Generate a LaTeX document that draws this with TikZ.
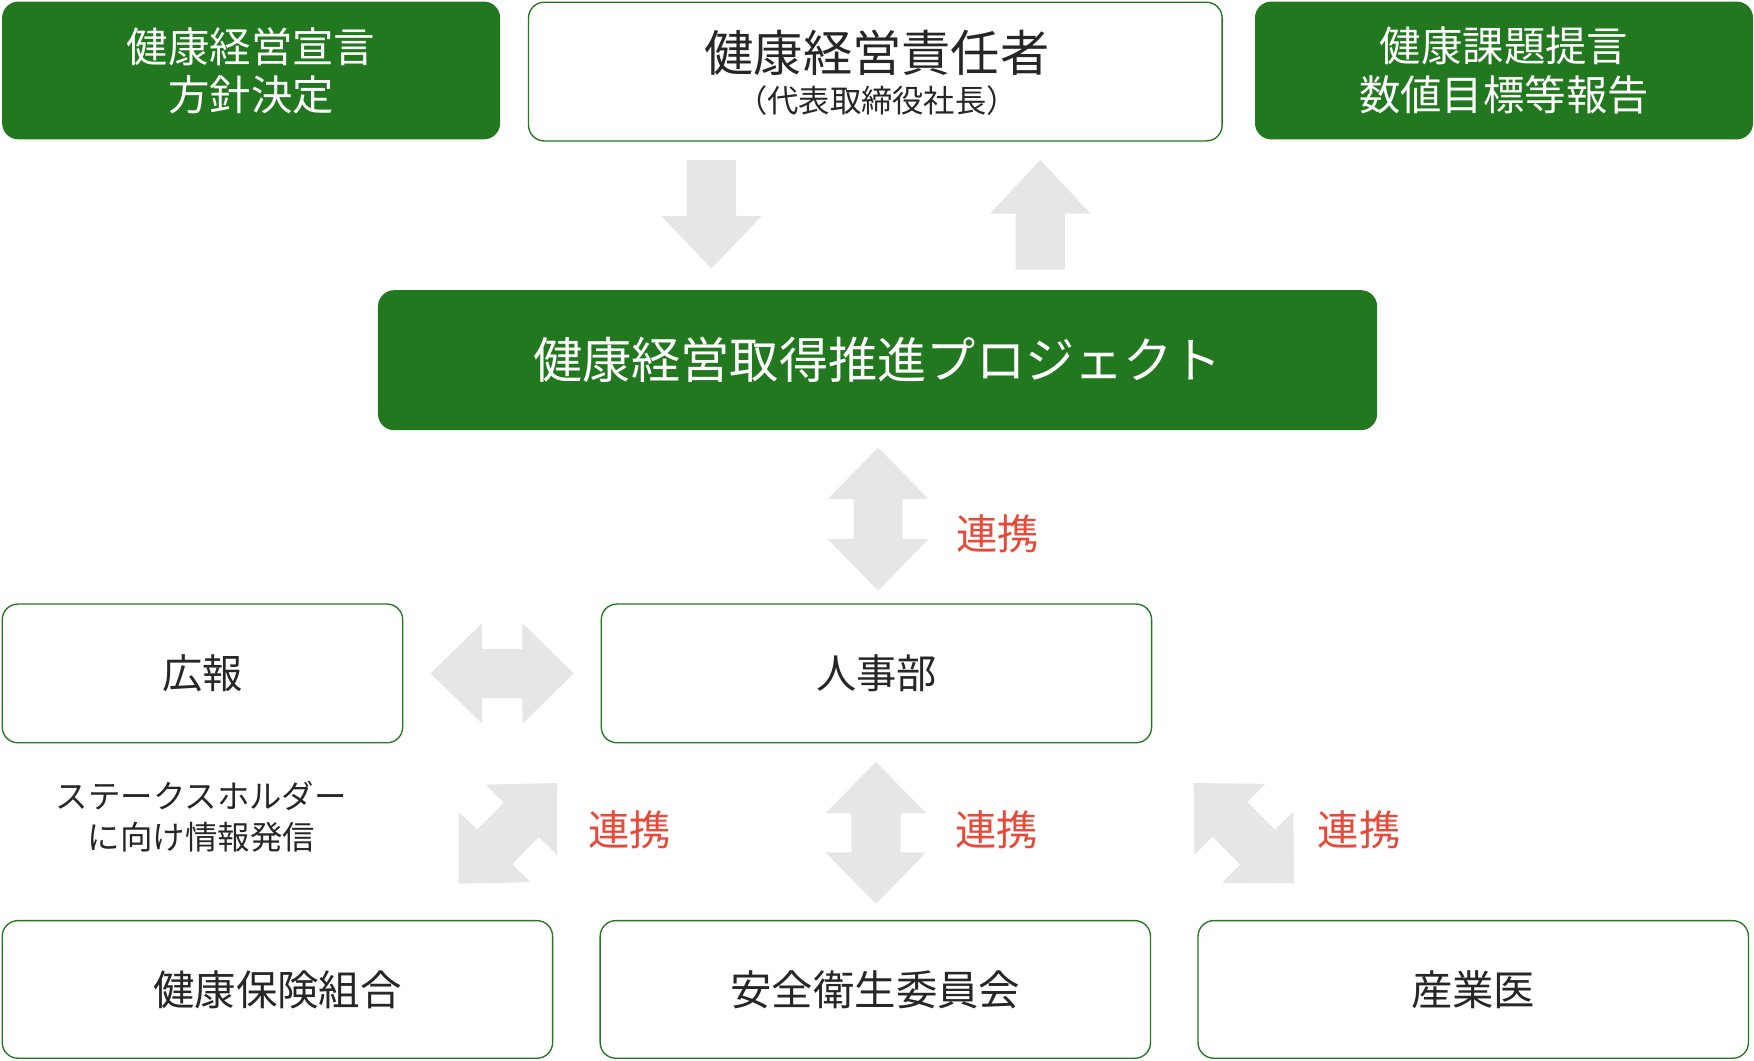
\documentclass[tikz,border=0pt]{standalone}
\usepackage{fontspec}
\setmainfont{Noto Sans CJK JP}
\begin{document}
\definecolor{gr}{HTML}{22781F}
\definecolor{ag}{HTML}{E6E6E6}
\definecolor{rd}{HTML}{E84A3A}
\newcommand\dblarr[4]{\begin{scope}[shift={(#1,#2)},rotate=#3]
\fill[ag] (0,0)--(46,45)--(46,22)--({#4-46},22)--({#4-46},45)--(#4,0)--({#4-46},-45)--({#4-46},-22)--(46,-22)--(46,-45)--cycle;
\end{scope}}
\begin{tikzpicture}[x=0.5pt,y=-0.5pt,
 gbox/.style={draw=gr,fill=gr,text=white,rounded corners=7pt,line width=0.6pt,align=center,inner sep=0},
 wbox/.style={draw=gr,fill=white,text=black!85,rounded corners=7pt,line width=0.6pt,align=center,inner sep=0},
 lk/.style={text=rd,font=\fontsize{18.5}{22}\selectfont}]
\useasboundingbox (0,0) rectangle (1568,948);
\node[gbox,minimum width=222pt,minimum height=61pt,font=\fontsize{18.5}{21.5}\selectfont] (a) at (224.5,63) {健康経営宣言\\方針決定};
\node[wbox,minimum width=310pt,minimum height=62pt] (b) at (782.5,64) {};
\node[text=black!85,font=\fontsize{22}{25}\selectfont] (bt) at (784,47) {健康経営責任者};
\node[text=black!85,font=\fontsize{14}{16}\selectfont] (bs) at (784,90) {（代表取締役社長）};
\node[gbox,minimum width=222pt,minimum height=61pt,font=\fontsize{18.5}{21.5}\selectfont] (c) at (1344.5,63) {健康課題提言\\数値目標等報告};
\node[gbox,minimum width=446pt,minimum height=62pt,font=\fontsize{22}{26}\selectfont] (p) at (784.5,322) {健康経営取得推進プロジェクト};
\fill[ag] (614,143)--(658,143)--(658,193)--(681,193)--(636,240)--(591,193)--(614,193)--cycle;
\fill[ag] (930,143)--(975,191)--(952,191)--(952,241)--(908,241)--(908,191)--(885,191)--cycle;
\dblarr{785}{528}{90}{128}
\node[lk] (l1) at (892,477) {連携};
\node[wbox,minimum width=179pt,minimum height=62pt,font=\fontsize{18}{21}\selectfont] (k) at (181,602) {広報};
\node[wbox,minimum width=246pt,minimum height=62pt,font=\fontsize{18}{21}\selectfont] (h) at (783.5,602) {人事部};
\dblarr{385}{602}{0}{128}
\node[align=center,font=\fontsize{14.5}{18}\selectfont,text=black!85] (s) at (180,730) {ステークスホルダー\\に向け情報発信};
\dblarr{410}{790}{45.6}{126}
\dblarr{783}{808}{90}{127}
\dblarr{1067}{700}{-45}{127}
\node[lk] (l2) at (563,742) {連携};
\node[lk] (l3) at (891,742) {連携};
\node[lk] (l4) at (1215,742) {連携};
\node[wbox,minimum width=246pt,minimum height=61.5pt,font=\fontsize{18.5}{21}\selectfont] (x) at (248,884.5) {健康保険組合};
\node[wbox,minimum width=246pt,minimum height=61.5pt,font=\fontsize{18.5}{21}\selectfont] (y) at (782.5,884.5) {安全衛生委員会};
\node[wbox,minimum width=246pt,minimum height=61.5pt,font=\fontsize{18.5}{21}\selectfont] (z) at (1317,884.5) {産業医};
\end{tikzpicture}
\end{document}
